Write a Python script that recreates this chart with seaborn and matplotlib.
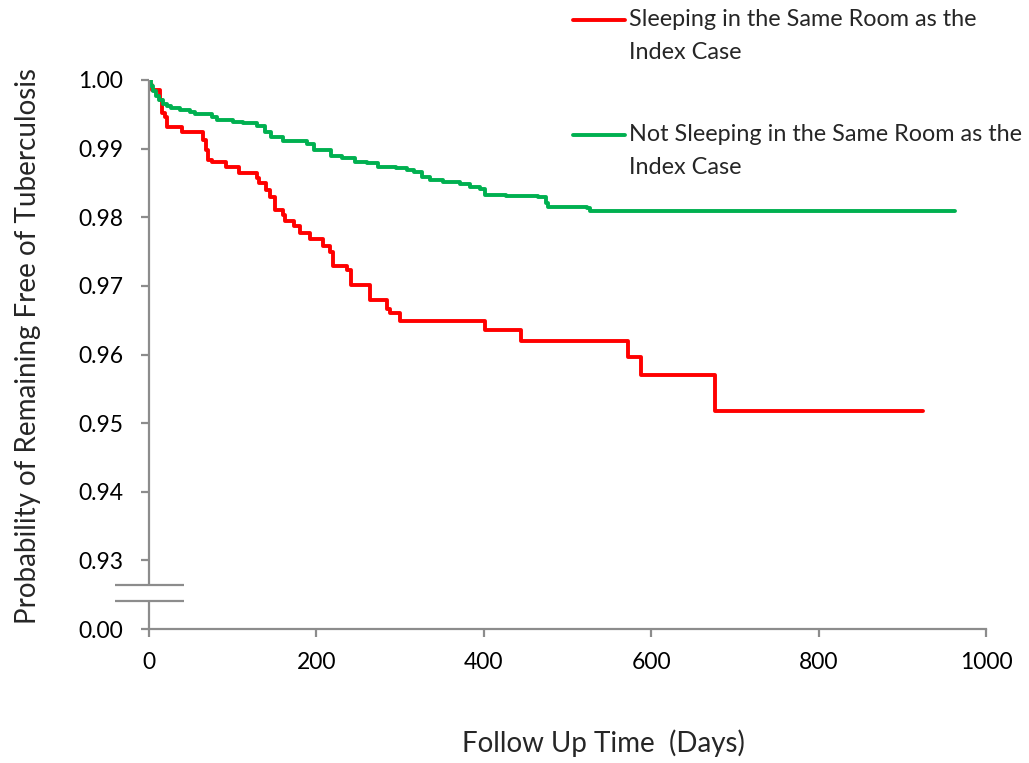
import numpy as np
import pandas as pd
import matplotlib
matplotlib.use("Agg")
import matplotlib.pyplot as plt
from matplotlib.lines import Line2D
import seaborn as sns

# ---------------- data ----------------
series_names = ["Sleeping in the Same Room as the\nIndex Case",
                "Not Sleeping in the Same Room as the\nIndex Case"]
series_colors = ["#FF0000", "#00B050"]

red_days = [0, 1, 3, 13, 15, 19, 22, 39, 64, 68, 71, 75, 92, 107, 129, 132, 140, 144, 150, 160,
            163, 173, 180, 192, 208, 216, 220, 236, 241, 264, 284, 288, 300, 401, 445, 572, 588, 676, 925]
red_surv = [1.0000, 0.9993, 0.9985, 0.9971, 0.9952, 0.9946, 0.9932, 0.9924, 0.9913, 0.9898,
            0.9883, 0.9880, 0.9873, 0.9864, 0.9857, 0.9850, 0.9840, 0.9829, 0.9810, 0.9803,
            0.9794, 0.9787, 0.9777, 0.9768, 0.9758, 0.9749, 0.9729, 0.9723, 0.9701, 0.9679,
            0.9666, 0.9660, 0.9649, 0.9636, 0.9620, 0.9596, 0.9570, 0.9517, 0.9517]

green_days = [0, 2, 5, 8, 12, 17, 22, 26, 37, 49, 55, 75, 81, 100, 112, 129, 138, 146, 160, 189,
              197, 218, 231, 246, 260, 273, 295, 308, 317, 326, 336, 351, 371, 383, 395, 401, 427,
              465, 474, 477, 523, 527, 963]
green_surv = [1.0000, 0.9991, 0.9984, 0.9977, 0.9971, 0.9965, 0.9962, 0.9959, 0.9956, 0.9953,
              0.9950, 0.9946, 0.9942, 0.9939, 0.9937, 0.9933, 0.9924, 0.9917, 0.9911, 0.9907,
              0.9898, 0.9889, 0.9886, 0.9880, 0.9879, 0.9873, 0.9872, 0.9869, 0.9866, 0.9859,
              0.9854, 0.9851, 0.9848, 0.9844, 0.9841, 0.9832, 0.9831, 0.9829, 0.9821, 0.9815,
              0.9813, 0.9809, 0.9809]

x_ticks = [0, 200, 400, 600, 800, 1000]
y_ticks = [0.92, 0.93, 0.94, 0.95, 0.96, 0.97, 0.98, 0.99, 1.00]
y_tick_labels = ["0.00", "0.93", "0.94", "0.95", "0.96", "0.97", "0.98", "0.99", "1.00"]
x_label = "Follow Up Time  (Days)"
y_label = "Probability of Remaining Free of Tuberculosis"

# ---------------- style ----------------
sns.set_theme(style="white")
plt.rcParams["font.family"] = ["Lato", "DejaVu Sans"]
AX_GREY = "#8C8C8C"

df = pd.concat([
    pd.DataFrame({"day": red_days, "surv": red_surv, "group": series_names[0]}),
    pd.DataFrame({"day": green_days, "surv": green_surv, "group": series_names[1]}),
], ignore_index=True)

fig = plt.figure(figsize=(10.29, 7.63), dpi=100)
ax = fig.add_axes([149 / 1029, 1 - 629 / 763, (986 - 149) / 1029, (629 - 80) / 763])

sns.lineplot(data=df, x="day", y="surv", hue="group", hue_order=series_names,
             palette=series_colors, estimator=None, drawstyle="steps-post",
             linewidth=2.8, legend=False, ax=ax)

ax.set_xlim(0, 1000)
ax.set_ylim(0.92, 1.00)
ax.set_xticks(x_ticks)
ax.set_xticklabels([str(t) for t in x_ticks])
ax.set_yticks(y_ticks)
ax.set_yticklabels(y_tick_labels)

for s in ["top", "right", "left"]:
    ax.spines[s].set_visible(False)
ax.spines["bottom"].set_color(AX_GREY)
ax.spines["bottom"].set_linewidth(1.6)

ax.tick_params(axis="both", which="major", direction="out", length=5.5, width=1.6,
               color=AX_GREY, labelsize=16.5, labelcolor="black")
ax.tick_params(axis="x", pad=11, bottom=True)
ax.tick_params(axis="y", pad=13, left=True)

# broken y-axis line
brk_hi, brk_lo = 0.92641, 0.92408
ytr = ax.get_yaxis_transform()
ax.plot([0, 0], [brk_hi, 1.0], transform=ytr, color=AX_GREY, lw=1.6, clip_on=False,
        solid_capstyle="butt")
ax.plot([0, 0], [0.92, brk_lo], transform=ytr, color=AX_GREY, lw=1.6, clip_on=False,
        solid_capstyle="butt")
for yy in (brk_hi, brk_lo):
    ax.plot([-0.0406, 0.0418], [yy, yy], transform=ytr, color=AX_GREY, lw=1.6,
            clip_on=False, solid_capstyle="butt")

ax.set_xlabel(x_label, fontsize=20)
ax.xaxis.set_label_coords(0.5424, -0.183)
ax.set_ylabel(y_label, fontsize=20)
ax.yaxis.set_label_coords(-0.129, 0.516)

# legend (manual, top right, outside axes)
leg_rows = [(20, 0), (135, 1)]
for py, i in leg_rows:
    yf = 1 - py / 763
    fig.add_artist(Line2D([573 / 1029, 625 / 1029], [yf, yf], transform=fig.transFigure,
                          color=series_colors[i], lw=2.8))
    fig.text(629 / 1029, 1 - (py - 11) / 763, series_names[i], transform=fig.transFigure,
             fontsize=16.8, ha="left", va="top", linespacing=1.72)

fig.savefig("out.png", dpi=100)
